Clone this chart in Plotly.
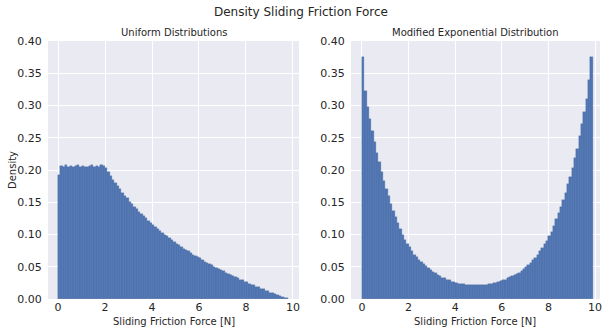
import numpy as np
import plotly.graph_objects as go

# ---- data (densities per 0.1-wide bin, starting at 0) ----
bin_width = 0.1

uniform_density = [
    0.192, 0.206, 0.205, 0.207, 0.205, 0.206, 0.204, 0.206, 0.207, 0.205,
    0.206, 0.205, 0.204, 0.206, 0.207, 0.205, 0.206, 0.205, 0.207, 0.206,
    0.203, 0.197, 0.191, 0.185, 0.180, 0.175, 0.170, 0.165, 0.160, 0.156,
    0.151, 0.147, 0.143, 0.139, 0.135, 0.132, 0.128, 0.125, 0.121, 0.118,
    0.115, 0.111, 0.108, 0.105, 0.102, 0.099, 0.097, 0.094, 0.091, 0.089,
    0.086, 0.083, 0.081, 0.078, 0.076, 0.074, 0.071, 0.069, 0.067, 0.065,
    0.063, 0.060, 0.058, 0.056, 0.054, 0.052, 0.050, 0.048, 0.046, 0.045,
    0.043, 0.041, 0.039, 0.037, 0.036, 0.034, 0.032, 0.030, 0.029, 0.027,
    0.026, 0.024, 0.022, 0.021, 0.019, 0.018, 0.016, 0.015, 0.013, 0.012,
    0.010, 0.009, 0.0075, 0.006, 0.0047, 0.0034, 0.002, 0.0008,
]

exponential_density = [
    0.375, 0.322, 0.298, 0.279, 0.261, 0.243, 0.227, 0.212, 0.197, 0.183,
    0.171, 0.159, 0.147, 0.136, 0.127, 0.118, 0.108, 0.099, 0.092, 0.086,
    0.080, 0.075, 0.069, 0.065, 0.061, 0.058, 0.054, 0.051, 0.048, 0.045,
    0.042, 0.040, 0.037, 0.035, 0.033, 0.032, 0.030, 0.029, 0.027, 0.026,
    0.025, 0.024, 0.0235, 0.023, 0.022, 0.0215, 0.0212, 0.021, 0.021, 0.021,
    0.0212, 0.0215, 0.022, 0.0222, 0.023, 0.0235, 0.0245, 0.0255, 0.026, 0.0275,
    0.029, 0.030, 0.032, 0.034, 0.035, 0.037, 0.039, 0.041, 0.044, 0.047,
    0.049, 0.053, 0.056, 0.060, 0.064, 0.068, 0.074, 0.079, 0.085, 0.090,
    0.097, 0.104, 0.113, 0.124, 0.133, 0.142, 0.154, 0.165, 0.178, 0.189,
    0.203, 0.218, 0.232, 0.253, 0.272, 0.290, 0.310, 0.340, 0.375,
]

suptitle = "Density Sliding Friction Force"
titles = ["Uniform Distributions", "Modified Exponential Distribution"]
x_label = "Sliding Friction Force [N]"
y_label = "Density"
x_ticks = [0, 2, 4, 6, 8, 10]
y_ticks = [0.0, 0.05, 0.10, 0.15, 0.20, 0.25, 0.30, 0.35, 0.40]

# ---- style ----
BAR = "#5075b3"
EDGE = "#46689f"
BG = "#EAEAF2"
TXT = "#262626"
FONT = "DejaVu Sans"

W, H = 602, 333
ML, MR, MT, MB = 48, 2, 41, 34
PW = W - ML - MR
PH = H - MT - MB


def centers(vals):
    return (np.arange(len(vals)) + 0.5) * bin_width


fig = go.Figure()
for i, vals in enumerate([uniform_density, exponential_density]):
    fig.add_trace(go.Bar(
        x=centers(vals), y=vals, width=bin_width,
        marker=dict(color=BAR, line=dict(color=EDGE, width=0.35)),
        xaxis="x" if i == 0 else "x2", yaxis="y" if i == 0 else "y2",
        showlegend=False, hoverinfo="skip",
    ))

axis_common = dict(
    showgrid=True, gridcolor="white", gridwidth=1, zeroline=False,
    showline=False, automargin=False, ticklabeloverflow="allow",
    tickfont=dict(family=FONT, size=11, color=TXT),
)
xaxis_common = dict(ticks="", **axis_common)
yaxis_common = dict(ticks="outside", ticklen=3, tickcolor="rgba(0,0,0,0)",
                    tickformat=".2f", **axis_common)

left_dom = [0, 251 / PW]
right_dom = [(351 - ML) / PW, 1]

fig.update_layout(
    width=W, height=H,
    margin=dict(l=ML, r=MR, t=MT, b=MB, pad=0),
    paper_bgcolor="white", plot_bgcolor=BG,
    bargap=0,
    xaxis=dict(domain=left_dom, range=[-0.43, 10.26], tickvals=x_ticks,
               anchor="y", **xaxis_common),
    yaxis=dict(domain=[0, 1], range=[0, 0.4], tickvals=y_ticks,
               anchor="x", **yaxis_common),
    xaxis2=dict(domain=right_dom, range=[-0.47, 10.21], tickvals=x_ticks,
                anchor="y2", **xaxis_common),
    yaxis2=dict(domain=[0, 1], range=[0, 0.4], tickvals=y_ticks,
                anchor="x2", **yaxis_common),
)

ann = []
ann.append(dict(text=suptitle, xref="paper", yref="paper",
                x=(301 - ML) / PW, y=1 + (MT - 11.5) / PH, showarrow=False,
                xanchor="center", yanchor="middle",
                font=dict(family=FONT, size=12, color=TXT)))
for dom, t in zip([left_dom, right_dom], titles):
    ann.append(dict(text=t, xref="paper", yref="paper",
                    x=(dom[0] + dom[1]) / 2, y=1 + 8.5 / PH, showarrow=False,
                    xanchor="center", yanchor="middle",
                    font=dict(family=FONT, size=10, color=TXT)))
    ann.append(dict(text=x_label, xref="paper", yref="paper",
                    x=(dom[0] + dom[1]) / 2, y=-22.7 / PH, showarrow=False,
                    xanchor="center", yanchor="middle",
                    font=dict(family=FONT, size=10, color=TXT)))
ann.append(dict(text=y_label, xref="paper", yref="paper",
                x=(12 - ML) / PW, y=0.5, showarrow=False, textangle=-90,
                xanchor="center", yanchor="middle",
                font=dict(family=FONT, size=10, color=TXT)))
fig.update_layout(annotations=ann)

fig.write_html(
    "out.html",
    config={"displayModeBar": False},
    post_script="document.body.style.margin='0';document.body.style.padding='0';",
)
